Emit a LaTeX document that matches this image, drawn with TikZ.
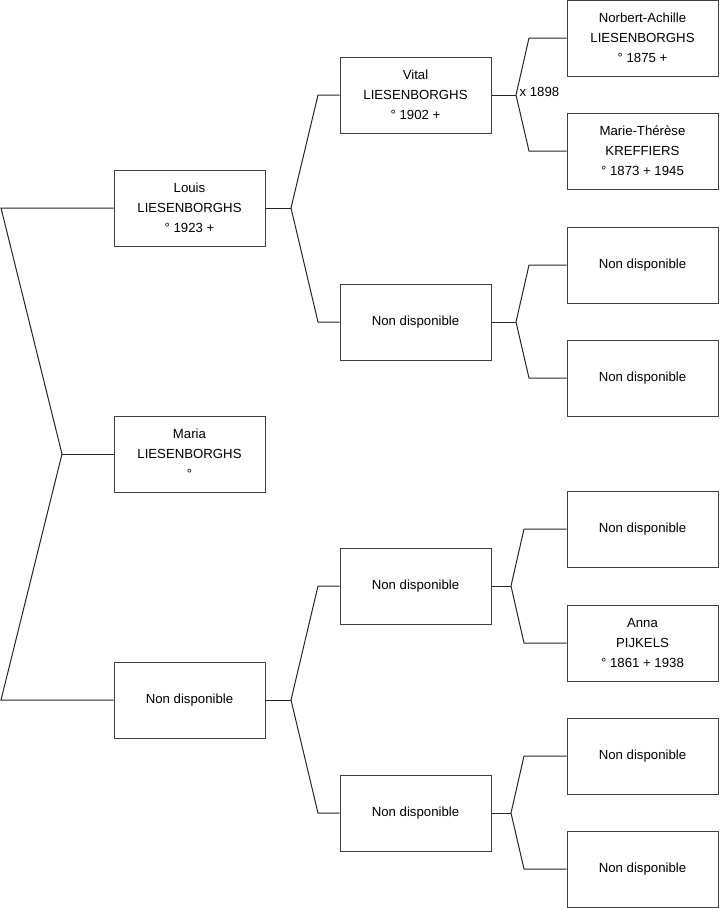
\documentclass[tikz,border=0pt]{standalone}
\usepackage{fontspec}
\setmainfont{Liberation Sans}
\usetikzlibrary{positioning,calc}

\begin{document}
\begin{tikzpicture}[x=0.75pt, y=-0.75pt,
  person/.style={rectangle, draw=black!75, fill=white, line width=0.75pt,
                 minimum width=113.25pt, minimum height=57pt, inner sep=0pt,
                 align=center, font=\fontsize{9.9}{15}\selectfont},
  conn/.style={draw=black!85, line width=0.75pt},
  note/.style={anchor=west, inner sep=1pt, font=\fontsize{9.9}{12}\selectfont}
]
  \useasboundingbox (0,0) rectangle (719,908);

  % generation 1
  \node[person] (louis)  at (189.5,208) {Louis\\LIESENBORGHS\\° 1923 +};
  \node[person] (maria)  at (189.5,454) {Maria\\LIESENBORGHS\\°};
  \node[person] (mother) at (189.5,700) {Non disponible};

  % generation 2
  \node[person] (vital) at (415.5,95)  {Vital\\LIESENBORGHS\\° 1902 +};
  \node[person] (pa)    at (415.5,322) {Non disponible};
  \node[person] (ma)    at (415.5,586) {Non disponible};
  \node[person] (mb)    at (415.5,813) {Non disponible};

  % generation 3
  \node[person] (norbert) at (642.5,38)  {Norbert-Achille\\LIESENBORGHS\\° 1875 +};
  \node[person] (marie)   at (642.5,151) {Marie-Thérèse\\KREFFIERS\\° 1873 + 1945};
  \node[person] (paa)     at (642.5,265) {Non disponible};
  \node[person] (pab)     at (642.5,378) {Non disponible};
  \node[person] (maa)     at (642.5,529) {Non disponible};
  \node[person] (anna)    at (642.5,643) {Anna\\PIJKELS\\° 1861 + 1938};
  \node[person] (mba)     at (642.5,756) {Non disponible};
  \node[person] (mbb)     at (642.5,869) {Non disponible};

  % forks
  \coordinate (j0) at (62,454);
  \draw[conn] (louis.west) -- (1,208) -- (j0) -- (1,700) -- (mother.west);
  \draw[conn] (j0) -- (maria.west);

  \coordinate (j1) at (291,208);
  \draw[conn] (louis.east) -- (j1);
  \draw[conn] (vital.west) -- (318,95) -- (j1) -- (318,322) -- (pa.west);

  \coordinate (j2) at (291,700);
  \draw[conn] (mother.east) -- (j2);
  \draw[conn] (ma.west) -- (318,586) -- (j2) -- (318,813) -- (mb.west);

  \coordinate (j3) at (516,95);
  \draw[conn] (vital.east) -- (j3);
  \draw[conn] (norbert.west) -- (529,38) -- (j3) -- (529,151) -- (marie.west);
  \node[note] (wed) at (518,92) {x 1898};

  \coordinate (j4) at (516,322);
  \draw[conn] (pa.east) -- (j4);
  \draw[conn] (paa.west) -- (529,265) -- (j4) -- (529,378) -- (pab.west);

  \coordinate (j5) at (511,586);
  \draw[conn] (ma.east) -- (j5);
  \draw[conn] (maa.west) -- (524,529) -- (j5) -- (524,643) -- (anna.west);

  \coordinate (j6) at (511,813);
  \draw[conn] (mb.east) -- (j6);
  \draw[conn] (mba.west) -- (524,756) -- (j6) -- (524,869) -- (mbb.west);
\end{tikzpicture}
\end{document}
